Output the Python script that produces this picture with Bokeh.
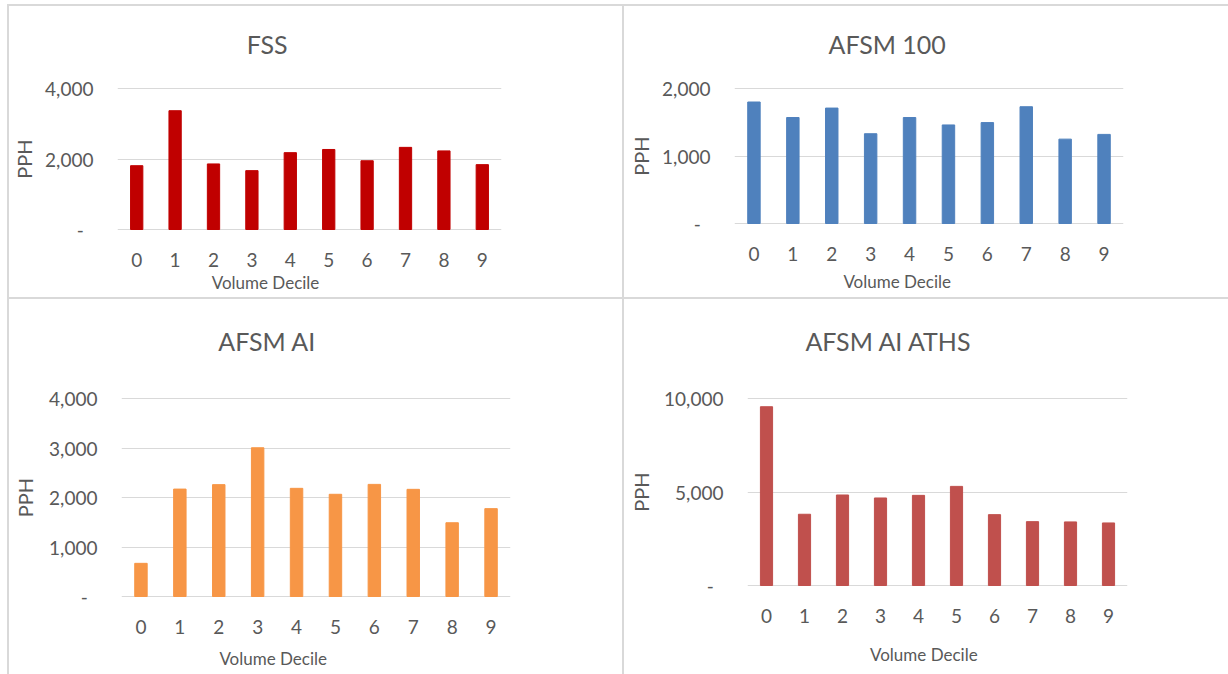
from bokeh.embed import file_html
from bokeh.resources import INLINE
from bokeh.plotting import figure
from bokeh.layouts import column, row
from bokeh.models import (LinearAxis, Range1d, FixedTicker,
                          NumeralTickFormatter)

# ---- data ---------------------------------------------------------------
deciles = ["0", "1", "2", "3", "4", "5", "6", "7", "8", "9"]

fss_pph = [1810, 3370, 1860, 1670, 2180, 2270, 1950, 2330, 2230, 1840]
afsm100_pph = [1800, 1570, 1710, 1330, 1570, 1460, 1495, 1730, 1250, 1320]
afsm_ai_pph = [670, 2170, 2260, 3005, 2185, 2065, 2265, 2165, 1490, 1775]
afsm_ai_aths_pph = [9560, 3810, 4840, 4680, 4820, 5300, 3790, 3415, 3400, 3345]

panel_titles = ["FSS", "AFSM 100", "AFSM AI", "AFSM AI ATHS"]
panel_colors = ["#C00000", "#4F81BD", "#F79646", "#C0504D"]
panel_yticks = [[0, 2000, 4000], [0, 1000, 2000],
                [0, 1000, 2000, 3000, 4000], [0, 5000, 10000]]
x_title = "Volume Decile"
y_title = "PPH"

FONT = "Lato"
TEXT = "#595959"
GRID = "#D9D9D9"
BORDER = "#D9D9D9"
PAD = 2  # px of room above/below the value extent so edge gridlines show


def bare(ax):
    ax.axis_line_color = None
    ax.major_tick_line_color = None
    ax.minor_tick_line_color = None
    ax.major_tick_out = 0
    ax.major_tick_in = 0
    ax.major_label_text_font = FONT
    ax.major_label_text_color = TEXT


def make_panel(title, values, color, yticks, geom, centres, standoffs):
    """One Excel-style column chart panel.

    geom: canvas width/height and the value area (left, top, width, height)
    centres: canvas x of the chart title and of the x-axis title
    standoffs: title, x-axis title and y-axis title offsets in px
    """
    cw, ch, fl, ft, fw, fh = geom
    x0, x1 = -0.5, len(values) - 0.5
    ymax = yticks[-1]
    per_px = ymax / fh
    y0, y1 = -PAD * per_px, ymax + PAD * per_px
    ft -= PAD
    fh += 2 * PAD

    p = figure(width=cw, height=ch, frame_width=fw, frame_height=fh,
               min_border_left=fl, min_border_right=cw - fl - fw,
               min_border_top=ft, min_border_bottom=ch - ft - fh,
               x_range=Range1d(x0, x1), y_range=Range1d(y0, y1),
               output_backend="svg", toolbar_location=None,
               styles={"background-color": "white"})
    p.outline_line_color = None
    p.background_fill_color = "white"
    p.border_fill_color = "white"

    xs = list(range(len(values)))
    p.vbar(x=xs, top=values, width=0.32, color=color)

    # value and category axes
    p.xaxis.ticker = FixedTicker(ticks=xs, minor_ticks=[])
    p.xaxis.major_label_overrides = {i: d for i, d in enumerate(deciles)}
    p.yaxis.ticker = FixedTicker(ticks=yticks, minor_ticks=[])
    p.yaxis.formatter = NumeralTickFormatter(format="0,0")
    p.yaxis.major_label_overrides = {0: "-\u00a0\u00a0"}
    for ax in (p.xaxis[0], p.yaxis[0]):
        bare(ax)
        ax.major_label_text_font_size = "19px"
    p.yaxis.major_label_standoff = 24
    p.xaxis.major_label_standoff = 23 - PAD

    # y-axis title, centred on the value area like Excel does
    p.yaxis.axis_label = y_title
    p.yaxis.axis_label_text_font = FONT
    p.yaxis.axis_label_text_font_style = "normal"
    p.yaxis.axis_label_text_color = TEXT
    p.yaxis.axis_label_text_font_size = "20px"
    p.yaxis.axis_label_standoff = standoffs[2]

    p.xgrid.visible = False
    p.ygrid.grid_line_color = GRID
    p.ygrid.grid_line_width = 1
    p.ygrid.ticker = FixedTicker(ticks=yticks, minor_ticks=[])

    def dx(px):
        return round(x0 + (px - fl) / fw * (x1 - x0), 4)

    # chart title: a single-label axis above the value area
    tx = dx(centres[0])
    top_ax = LinearAxis(ticker=FixedTicker(ticks=[tx], minor_ticks=[]),
                        major_label_overrides={tx: title})
    bare(top_ax)
    top_ax.major_label_text_font_size = "25px"
    top_ax.major_label_standoff = standoffs[0]
    p.add_layout(top_ax, "above")

    # x-axis title: a single-label axis under the decile labels
    xx = dx(centres[1])
    sub_ax = LinearAxis(ticker=FixedTicker(ticks=[xx], minor_ticks=[]),
                        major_label_overrides={xx: x_title})
    bare(sub_ax)
    sub_ax.major_label_text_font_size = "17px"
    sub_ax.major_label_standoff = standoffs[1]
    p.add_layout(sub_ax, "below")
    return p


p1 = make_panel(panel_titles[0], fss_pph, panel_colors[0], panel_yticks[0],
                (613, 291, 108, 82, 384, 141), (257.7, 256), (28, 2, 6))
p2 = make_panel(panel_titles[1], afsm100_pph, panel_colors[1], panel_yticks[1],
                (604, 291, 110, 82, 389, 135), (262.7, 272.7), (28, 7, 6))
p3 = make_panel(panel_titles[2], afsm_ai_pph, panel_colors[2], panel_yticks[2],
                (613, 375, 112, 99, 389, 198), (257.7, 263.7), (41, 11, 9))
p4 = make_panel(panel_titles[3], afsm_ai_aths_pph, panel_colors[3],
                panel_yticks[3],
                (604, 375, 123, 96, 380, 187), (264.3, 299.3), (41, 18, 8))

top_row = row(p1, p2, spacing=2)
bottom_row = row(p3, p4, spacing=2)
layout = column(top_row, bottom_row, spacing=2, margin=(4, 0, 0, 7),
                styles={"background-color": BORDER,
                        "padding-left": "2px", "padding-top": "2px"})

open("out.html", "w").write(file_html(layout, INLINE))
